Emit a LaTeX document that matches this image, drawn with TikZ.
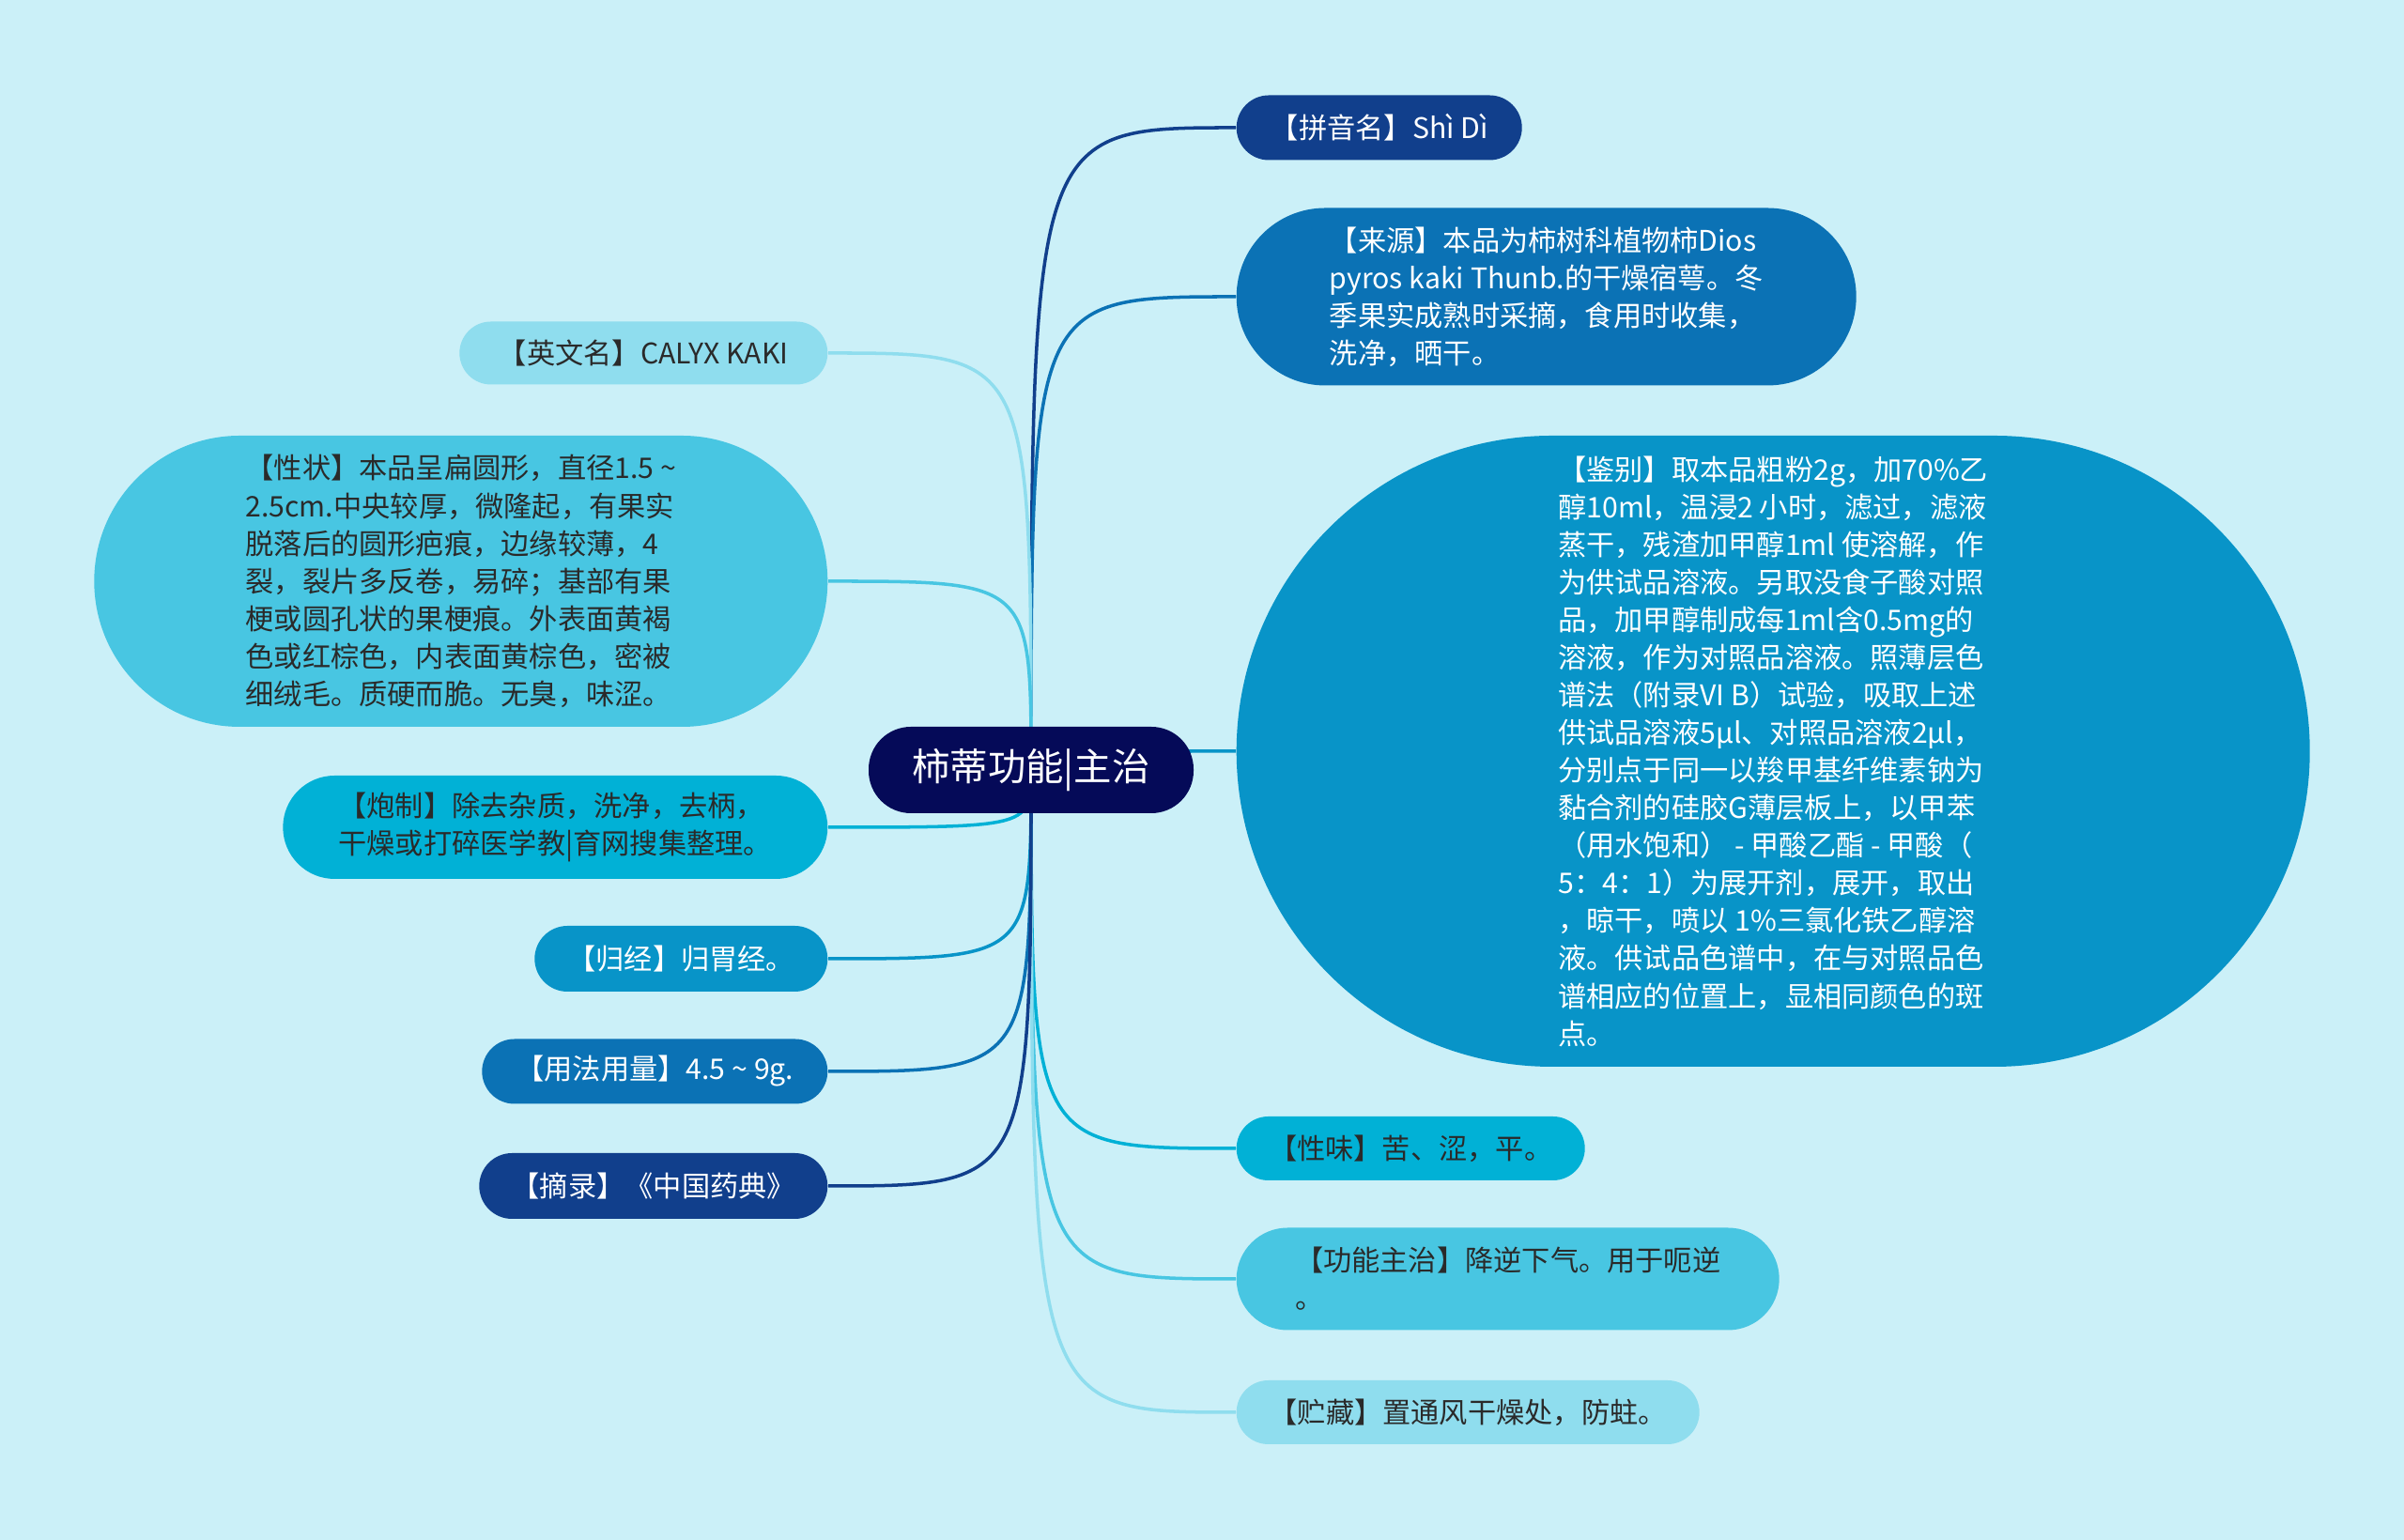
\documentclass[tikz,border=0pt]{standalone}
\usepackage{fontspec}
\setmainfont{Noto Sans CJK SC}
\usetikzlibrary{shapes.misc}

\definecolor{bgcyan}{HTML}{CBF0F8}
\definecolor{navy}{HTML}{050A58}
\definecolor{blueA}{HTML}{113F8C}
\definecolor{blueB}{HTML}{0B72B5}
\definecolor{blueC}{HTML}{0894C8}
\definecolor{blueD}{HTML}{01B1D6}
\definecolor{blueE}{HTML}{48C6E2}
\definecolor{blueF}{HTML}{8FDDEE}
\definecolor{txtdark}{HTML}{2A2A2A}

\pgfdeclarelayer{bg}
\pgfdeclarelayer{edges}
\pgfsetlayers{bg,edges,main}

\tikzset{
  topic/.style={rounded rectangle, fill=#1, inner xsep=0pt, inner ysep=0pt,
    align=left, font=\fontsize{8.6}{11.4}\selectfont},
  darktopic/.style={topic=#1, text=white},
  lighttopic/.style={topic=#1, text=txtdark},
  link/.style={draw=#1, line width=1pt},
}

\begin{document}
\begin{tikzpicture}
	\useasboundingbox (0,0) rectangle (25.6,16.4);
	\begin{pgfonlayer}{bg}
		\fill[bgcyan] (0,0) rectangle (25.6,16.4);
	\end{pgfonlayer}
	%
	\node[rectangle, rounded corners=0.45cm, fill=navy, text=white, minimum width=3.46cm, minimum height=0.92cm,
		font=\fontsize{11.5}{13}\selectfont] (root) at (10.98,8.20) {柿蒂功能|主治};
	%
	\node[darktopic=blueA, anchor=west, minimum width=3.04cm, minimum height=0.69cm] (pinyin) at (13.16,15.04)
		{【拼音名】Shì Dì};
	\node[darktopic=blueB, anchor=west, minimum width=6.60cm, minimum height=1.89cm] (laiyuan) at (13.16,13.24)
		{【来源】本品为柿树科植物柿Dios\\pyros kaki Thunb.的干燥宿萼。冬\\季果实成熟时采摘，食用时收集，\\洗净，晒干。};
	\node[darktopic=blueC, anchor=west, minimum width=11.43cm, minimum height=6.72cm] (jianbie) at (13.16,8.40)
		{【鉴别】取本品粗粉2g，加70\%乙\\醇10ml，温浸2 小时，滤过，滤液\\蒸干，残渣加甲醇1ml 使溶解，作\\为供试品溶液。另取没食子酸对照\\品，加甲醇制成每1ml含0.5mg的\\溶液，作为对照品溶液。照薄层色\\谱法（附录VI B）试验，吸取上述\\供试品溶液5μl、对照品溶液2μl，\\分别点于同一以羧甲基纤维素钠为\\黏合剂的硅胶G薄层板上，以甲苯\\（用水饱和） - 甲酸乙酯 - 甲酸（\\5：4：1）为展开剂，展开，取出\\，晾干，喷以 1\%三氯化铁乙醇溶\\液。供试品色谱中，在与对照品色\\谱相应的位置上，显相同颜色的斑\\点。};
	\node[lighttopic=blueD, anchor=west, minimum width=3.71cm, minimum height=0.68cm] (xingwei) at (13.16,4.17)
		{【性味】苦、涩，平。};
	\node[lighttopic=blueE, anchor=west, minimum width=5.78cm, minimum height=1.09cm] (gongneng) at (13.16,2.78)
		{【功能主治】降逆下气。用于呃逆\\。};
	\node[lighttopic=blueF, anchor=west, minimum width=4.93cm, minimum height=0.68cm] (zhucang) at (13.16,1.36)
		{【贮藏】置通风干燥处，防蛀。};
	%
	\node[lighttopic=blueF, anchor=east, minimum width=3.92cm, minimum height=0.67cm] (yingwen) at (8.82,12.64)
		{【英文名】CALYX KAKI};
	\node[lighttopic=blueE, anchor=east, minimum width=7.81cm, minimum height=3.10cm] (xingzhuang) at (8.82,10.21)
		{【性状】本品呈扁圆形，直径1.5 \textasciitilde\\2.5cm.中央较厚，微隆起，有果实\\脱落后的圆形疤痕，边缘较薄，4\\裂，裂片多反卷，易碎；基部有果\\梗或圆孔状的果梗痕。外表面黄褐\\色或红棕色，内表面黄棕色，密被\\细绒毛。质硬而脆。无臭，味涩。};
	\node[lighttopic=blueD, anchor=east, minimum width=5.80cm, minimum height=1.10cm] (paozhi) at (8.82,7.59)
		{【炮制】除去杂质，洗净，去柄，\\干燥或打碎医学教|育网搜集整理。};
	\node[darktopic=blueC, anchor=east, minimum width=3.12cm, minimum height=0.70cm] (guijing) at (8.82,6.19)
		{【归经】归胃经。};
	\node[darktopic=blueB, anchor=east, minimum width=3.68cm, minimum height=0.69cm] (yongfa) at (8.82,4.99)
		{【用法用量】4.5 \textasciitilde\ 9g.};
	\node[darktopic=blueA, anchor=east, minimum width=3.71cm, minimum height=0.70cm] (zhailu) at (8.82,3.77)
		{【摘录】《中国药典》};
	%
	\begin{pgfonlayer}{edges}
		\draw[link=blueA] (root.center) .. controls (root.center |- pinyin.west) .. (pinyin.west);
		\draw[link=blueB] (root.center) .. controls (root.center |- laiyuan.west) .. (laiyuan.west);
		\draw[link=blueC] (root.center) .. controls (root.center |- jianbie.west) .. (jianbie.west);
		\draw[link=blueD] (root.center) .. controls (root.center |- xingwei.west) .. (xingwei.west);
		\draw[link=blueE] (root.center) .. controls (root.center |- gongneng.west) .. (gongneng.west);
		\draw[link=blueF] (root.center) .. controls (root.center |- zhucang.west) .. (zhucang.west);
		%
		\draw[link=blueF] (root.center) .. controls (root.center |- yingwen.east) .. (yingwen.east);
		\draw[link=blueE] (root.center) .. controls (root.center |- xingzhuang.east) .. (xingzhuang.east);
		\draw[link=blueD] (root.center) .. controls (root.center |- paozhi.east) .. (paozhi.east);
		\draw[link=blueC] (root.center) .. controls (root.center |- guijing.east) .. (guijing.east);
		\draw[link=blueB] (root.center) .. controls (root.center |- yongfa.east) .. (yongfa.east);
		\draw[link=blueA] (root.center) .. controls (root.center |- zhailu.east) .. (zhailu.east);
	\end{pgfonlayer}
\end{tikzpicture}
\end{document}
